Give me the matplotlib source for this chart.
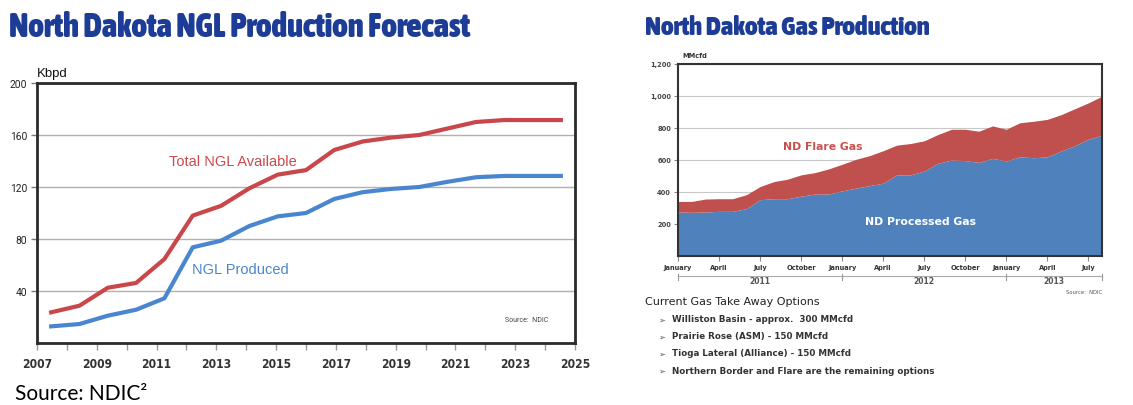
import matplotlib
matplotlib.use("Agg")
import matplotlib.pyplot as plt
import numpy as np
import pandas as pd
from matplotlib import font_manager as fm
from matplotlib.font_manager import FontProperties
from matplotlib.transforms import blended_transform_factory

# ---------------- data ----------------
ngl_years = list(range(2007, 2026))
total_ngl = [23.6, 28.7, 42.5, 46.2, 64.6, 98, 105.5, 119, 129.5, 133, 148.5,
             155, 158, 160, 165, 170, 171.5, 171.5, 171.5]
ngl_produced = [12.8, 14.6, 21, 25.6, 34.4, 73.6, 78.7, 90, 97.4, 100, 110.8,
                116, 118.5, 120, 124, 127.5, 128.5, 128.5, 128.5]
ngl_label_years = [2007, 2009, 2011, 2013, 2015, 2017, 2019, 2021, 2023, 2025]
ngl_yticks = [40, 80, 120, 160, 200]

gas_months = pd.date_range("2011-01-01", periods=32, freq="MS")
gas_total = [341, 341, 356, 358, 358, 383, 434, 465, 480, 507, 521, 544, 573, 604,
             627, 658, 693, 703, 720, 759, 792, 792, 780, 813, 792, 833, 842, 854,
             883, 920, 957, 999]
gas_processed = [275, 273, 275, 279, 279, 296, 352, 358, 358, 374, 387, 387, 407,
                 424, 440, 455, 507, 507, 531, 579, 600, 596, 585, 610, 594, 620,
                 614, 620, 656, 689, 730, 755]
gas_yticks = [200, 400, 600, 800, 1000, 1200]
gas_ytick_labels = ["200", "400", "600", "800", "1,000", "1,200"]
gas_years = ["2011", "2012", "2013"]

options_title = "Current Gas Take Away Options"
options = ["Williston Basin - approx.  300 MMcfd",
           "Prairie Rose (ASM) - 150 MMcfd",
           "Tioga Lateral (Alliance) - 150 MMcfd",
           "Northern Border and Flare are the remaining options"]

# ---------------- fonts ----------------
names = {f.name for f in fm.fontManager.ttflist}


def pick_condensed(target_weight):
    cands = []
    for f in fm.fontManager.ttflist:
        nm = f.name.lower()
        st = str(f.stretch).lower()
        fn = f.fname.lower()
        cond = ("condensed" in st or "narrow" in nm or "condensed" in nm
                or "condensed" in fn or "narrow" in fn)
        w = f.weight if isinstance(f.weight, int) else 400
        if cond and "italic" not in f.style and "oblique" not in f.style \
                and "italic" not in fn:
            cands.append((abs(w - target_weight), -w, f.fname))
    if cands:
        cands.sort()
        return FontProperties(fname=cands[0][2])
    return None


ROB = "Roboto" if "Roboto" in names else "DejaVu Sans"
title_fp = pick_condensed(900)
if title_fp is None:
    title_fp = FontProperties(family=ROB, weight="black")
tick_fp = pick_condensed(650)
if tick_fp is None:
    tick_fp = FontProperties(family=ROB, weight="bold")
SANS = "Liberation Sans" if "Liberation Sans" in names else "DejaVu Sans"
BIG = "Lato" if "Lato" in names else "DejaVu Sans"

W, H = 1133, 406
fig = plt.figure(figsize=(W / 100, H / 100), dpi=100)
fig.patch.set_facecolor("white")


def fit_width(t, target_px):
    r = fig.canvas.get_renderer()
    w = t.get_window_extent(r).width
    if w > 0:
        t.set_fontsize(t.get_fontsize() * target_px / w)


TITLE_BLUE = "#1c3c96"
t1 = fig.text(9 / W, 1 - 37 / H, "North Dakota NGL Production Forecast",
              fontproperties=title_fp, fontsize=22, color=TITLE_BLUE,
              va="baseline", ha="left")
t2 = fig.text(645 / W, 1 - 35 / H, "North Dakota Gas Production",
              fontproperties=title_fp, fontsize=18, color=TITLE_BLUE,
              va="baseline", ha="left")
fit_width(t1, 461)
fit_width(t2, 286)

# ---------------- left chart ----------------
ax1 = fig.add_axes([37 / W, 1 - 344 / H, 538 / W, 260 / H])
ncat = len(ngl_years)
xc = np.arange(ncat) + 0.5
ax1.plot(xc, total_ngl, color="#c9474b", lw=3.0, solid_joinstyle="round", zorder=3)
ax1.plot(xc, ngl_produced, color="#4a86cf", lw=3.0, solid_joinstyle="round", zorder=3)
ax1.set_xlim(0, ncat)
ax1.set_ylim(0, 200)
span = ngl_years[-1] - ngl_years[0]
ax1.set_xticks([(y - ngl_years[0]) * ncat / span for y in ngl_label_years])
xl = ax1.set_xticklabels([str(y) for y in ngl_label_years], fontproperties=tick_fp,
                         fontsize=11, color="#333333")
ax1.set_xticks([(y - ngl_years[0]) * ncat / span for y in ngl_years], minor=True)
ax1.set_yticks(ngl_yticks)
yl1 = ax1.set_yticklabels([str(v) for v in ngl_yticks], family=ROB, fontsize=8.5,
                          color="#222222")
ax1.tick_params(axis="x", which="both", length=5, width=1, color="#999999", pad=5)
ax1.tick_params(axis="y", length=4, width=1, color="#777777", pad=3)
ax1.grid(axis="y", color="#b0b0b0", lw=1)
ax1.set_axisbelow(True)
for s in ax1.spines.values():
    s.set_linewidth(2)
    s.set_color("#2a2a2a")
ax1.text(0.0, 1.027, "Kbpd", transform=ax1.transAxes, family=SANS, fontsize=9.5,
         color="#111111", va="baseline", ha="left")
ax1.text(6.9, 140, "Total NGL Available", family=SANS, fontsize=10.5,
         color="#cc4a4b", ha="center", va="center")
ax1.text(7.2, 57, "NGL Produced", family=SANS, fontsize=10.5,
         color="#4a86cf", ha="center", va="center")
ax1.text(17.3, 18, "Source:  NDIC", family=ROB, fontsize=5, color="#444444",
         ha="center", va="center")

# fit tick label width (~30 px for "2007")
r = fig.canvas.get_renderer()
w0 = xl[0].get_window_extent(r).width
if w0 > 0:
    for lab in xl:
        lab.set_fontsize(11 * 30 / w0)
w1 = yl1[-1].get_window_extent(r).width
if w1 > 0:
    for lab in yl1:
        lab.set_fontsize(8.5 * 17 / w1)

fig.text(15 / W, (H - 400) / H, "Source: NDIC\u00b2", family=BIG, fontsize=15,
         color="#000000", ha="left", va="baseline")

# ---------------- right chart ----------------
ax2 = fig.add_axes([678 / W, 1 - 257 / H, 424 / W, 192 / H])
xm = np.arange(len(gas_months))
ax2.fill_between(xm, 0, gas_processed, color="#4f81bd", lw=0, zorder=2)
ax2.fill_between(xm, gas_processed, gas_total, color="#c0504d", lw=0, zorder=2)
ax2.set_xlim(0, len(gas_months) - 1)
ax2.set_ylim(0, 1200)
ax2.set_yticks(gas_yticks)
ax2.set_yticklabels(gas_ytick_labels, family="DejaVu Sans", weight="bold",
                    fontsize=4.8, color="#444444")
qidx = [i for i, d in enumerate(gas_months) if d.month in (1, 4, 7, 10)]
ax2.set_xticks(qidx)
ax2.set_xticklabels([gas_months[i].strftime("%B") for i in qidx], family="DejaVu Sans",
                    weight="bold", fontsize=4.8, color="#333333")
ax2.tick_params(axis="x", length=3.5, width=0.8, color="#888888", pad=2)
ax2.tick_params(axis="y", length=3, width=0.8, color="#888888", pad=2)
ax2.grid(axis="y", color="#c8c8c8", lw=0.8, zorder=1)
ax2.set_axisbelow(True)
for s in ax2.spines.values():
    s.set_linewidth(1.5)
    s.set_color("#333333")
ax2.text(0.01, 1.035, "MMcfd", transform=ax2.transAxes, family="DejaVu Sans",
         weight="bold", fontsize=4.8, color="#333333", va="baseline", ha="left")
ax2.text(10.6, 689, "ND Flare Gas", family="DejaVu Sans", weight="bold",
         fontsize=7.8, color="#c9504d", ha="center", va="center", zorder=4)
ax2.text(17.7, 217, "ND Processed Gas", family="DejaVu Sans", weight="bold",
         fontsize=7.8, color="white", ha="center", va="center", zorder=4)

# year bracket below month labels
tb = blended_transform_factory(ax2.transData, ax2.transAxes)
yb = -20 / 192
xmax = len(gas_months) - 1
ystarts = [i for i, d in enumerate(gas_months) if d.month == 1]
ax2.plot([0, xmax], [yb, yb], color="#aaaaaa", lw=0.8, transform=tb, clip_on=False)
for xv in ystarts + [xmax]:
    ax2.plot([xv, xv], [yb + 2 / 192, yb - 4 / 192], color="#999999", lw=0.8,
             transform=tb, clip_on=False)
bounds = ystarts + [xmax]
for k, yr in enumerate(gas_years):
    ax2.text((bounds[k] + bounds[k + 1]) / 2, -25 / 192, yr, transform=tb,
             family="DejaVu Sans", weight="bold", fontsize=5.5, color="#555555",
             ha="center", va="center")
ax2.text(1.0, -36 / 192, "Source:  NDIC", transform=ax2.transAxes, family="DejaVu Sans",
         fontsize=3.8, color="#555555", ha="right", va="center")

# take-away options text
fig.text(645 / W, 1 - 302 / H, options_title, family="DejaVu Sans", fontsize=8,
         color="#222222", ha="left", va="center")
for k, line in enumerate(options):
    yy = 1 - (320 + 17 * k) / H
    fig.text(658 / W, yy, "\u27a2", family=["DejaVu Sans"], fontsize=6,
             color="#555555", ha="left", va="center")
    fig.text(672 / W, yy, line, family="DejaVu Sans", weight="bold", fontsize=6.3,
             color="#333333", ha="left", va="center")

fig.savefig("out.png", dpi=100, facecolor="white")
